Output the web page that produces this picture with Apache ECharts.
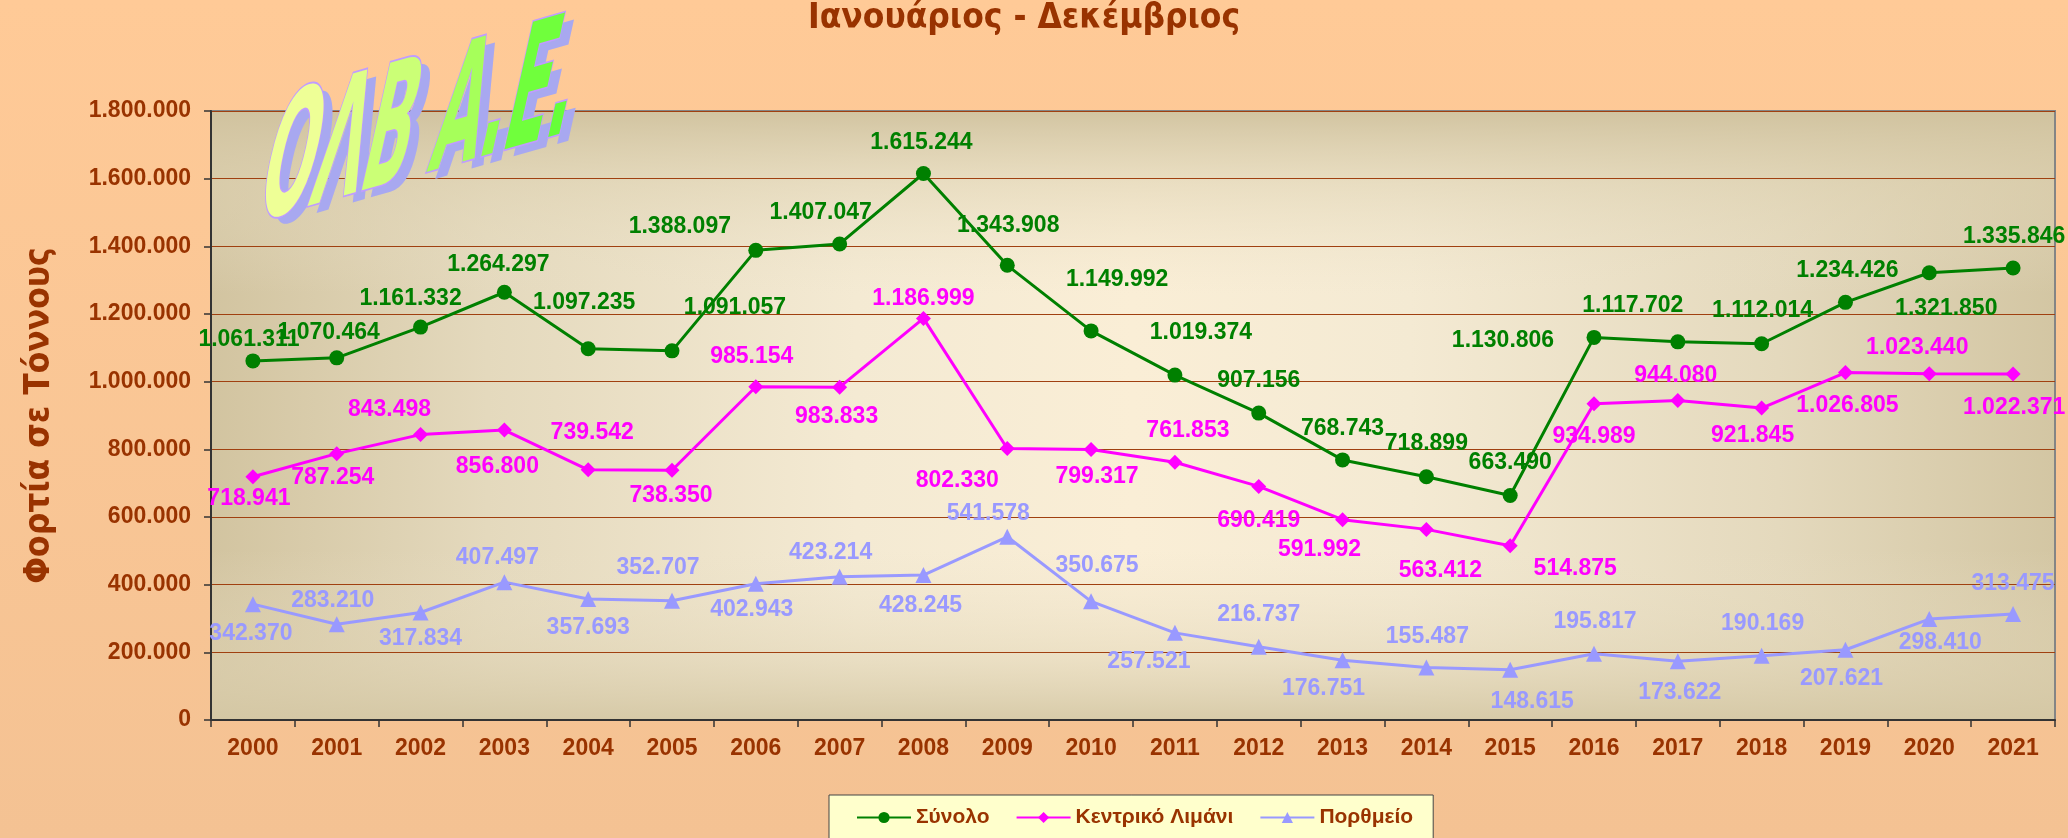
<!DOCTYPE html>
<html><head><meta charset="utf-8">
<script src="https://cdn.jsdelivr.net/npm/echarts@6/dist/echarts.min.js"></script>
<style>html,body{margin:0;padding:0;background:#ffcb98}#c{width:2068px;height:838px}</style>
</head><body><div id="c"></div>
<script>
// ---- data ----
const years = ['2000','2001','2002','2003','2004','2005','2006','2007','2008','2009','2010','2011','2012','2013','2014','2015','2016','2017','2018','2019','2020','2021'];
const seriesNames = ['Σύνολο', 'Κεντρικό Λιμάνι', 'Πορθμείο'];
const total   = [1061311,1070464,1161332,1264297,1097235,1091057,1388097,1407047,1615244,1343908,1149992,1019374,907156,768743,718899,663490,1130806,1117702,1112014,1234426,1321850,1335846];
const central = [718941,787254,843498,856800,739542,738350,985154,983833,1186999,802330,799317,761853,690419,591992,563412,514875,934989,944080,921845,1026805,1023440,1022371];
const ferry   = [342370,283210,317834,407497,357693,352707,402943,423214,428245,541578,350675,257521,216737,176751,155487,148615,195817,173622,190169,207621,298410,313475];
const titleText = 'Ιανουάριος - Δεκέμβριος';
const yAxisName = 'Φορτία σε Τόννους';
const logoChars = ['Ο','Λ','Β',' ','Α','.','Ε','.'];
const yMin = 0, yMax = 1800000, yStep = 200000;

// ---- label placement (styling, pixels relative to each point) ----
const totalLabelOffsets = [[-4,-21],[-8,-25],[-10,-28],[-6,-28],[-4,-46],[63,-43],[-76,-24],[-19,-31],[-2,-31],[1,-40],[26,-51],[26,-42],[0,-32],[0,-31],[0,-33],[0,-33],[-91,3],[-45,-36],[1,-33],[2,-32],[17,36],[1,-31]];
const centralLabelOffsets = [[-4,22],[-4,24],[-31,-25],[-7,37],[4,-37],[-1,25],[-4,-30],[-3,30],[0,-20],[-50,32],[6,27],[13,-32],[0,34],[-23,30],[14,41],[65,23],[0,33],[-2,-25],[-9,28],[2,33],[-12,-26],[1,34]];
const ferryLabelOffsets = [[-2,29],[-4,-24],[0,26],[-7,-24],[0,29],[-14,-33],[-4,26],[-9,-24],[-3,31],[-19,-23],[6,-36],[-26,29],[0,-32],[-19,28],[1,-31],[22,32],[1,-32],[2,31],[1,-32],[-4,29],[11,24],[0,-30]];
const logoColors = ['#eeff96','#deff86','#cbff76','#bbff6a','#a6ff5a','#90ff4c','#70ff3c','#66ff38'];

function fmt(v){ return String(v).replace(/\B(?=(\d{3})+(?!\d))/g, '.'); }

const BROWN = '#993300';
const numFont = 'Liberation Sans, Arial, sans-serif';
const greekFont = 'DejaVu Sans Condensed, DejaVu Sans, sans-serif';

const G = {left:211, top:111, right:13, bottom:118};
const W = 2068, H = 838;
const gw = W - G.left - G.right, gh = H - G.top - G.bottom;

function mk(name, vals, offs, color, symbol, size, z){
  return {
    name, type:'line', z,
    data: vals.map((v,i)=>({value:v, label:{offset: offs[i]}})),
    symbol, symbolSize:size, showSymbol:true,
    lineStyle:{color, width:3},
    itemStyle:{color, borderWidth:0},
    label:{show:true, position:'inside', formatter:p=>fmt(p.value), color,
      fontSize:23, fontWeight:'bold', fontFamily:numFont},
    emphasis:{disabled:true},
    animation:false
  };
}

// logo rich text (one token per glyph so each gets its own tint)
const logoText = logoChars.map((c,i)=>'{t'+i+'|'+c+'}').join('');
function logoRich(colorFn, withStroke){
  const r = {};
  logoChars.forEach((c,i)=>{
    r['t'+i] = {fill:colorFn(i), fontSize:70, fontWeight:'bold', fontFamily:greekFont};
    if (withStroke){ r['t'+i].stroke = '#c09cff'; r['t'+i].lineWidth = 1.5; }
  });
  return r;
}
const logoTf = {scaleY:2.5, skewX:-0.22, skewY:0.28};

const chart = echarts.init(document.getElementById('c'), null, {renderer:'canvas'});
chart.setOption({
  animation:false,
  title:{text:titleText, left:808, top:1, padding:0,
    textStyle:{color:BROWN, fontSize:35, fontWeight:'bold', fontFamily:greekFont}},
  legend:{
    data:seriesNames, left:829, top:795, orient:'horizontal',
    padding:[12,20,14,27], itemGap:26, itemWidth:54, itemHeight:14,
    backgroundColor:'#ffffcc', borderColor:'#444', borderWidth:1, borderRadius:0,
    textStyle:{color:BROWN, fontSize:21, fontWeight:'bold', fontFamily:numFont},
    selectedMode:false
  },
  grid:{left:G.left, top:G.top, right:G.right, bottom:G.bottom, show:true,
    backgroundColor:'transparent', borderColor:'#858585', borderWidth:2,
    containLabel:false, outerBoundsMode:'none'},
  xAxis:{type:'category', data:years, boundaryGap:true,
    axisLine:{show:true, lineStyle:{color:'#333', width:2}},
    axisTick:{show:true, length:7, lineStyle:{color:'#333', width:1.5}},
    axisLabel:{interval:0, color:BROWN, fontSize:23, fontWeight:'bold', fontFamily:numFont, margin:17},
    splitLine:{show:false}},
  yAxis:{type:'value', min:yMin, max:yMax, interval:yStep,
    name:yAxisName, nameLocation:'middle', nameRotate:90, nameGap:154,
    nameTextStyle:{color:BROWN, fontSize:35, fontWeight:'bold', fontFamily:greekFont},
    axisLine:{show:true, lineStyle:{color:'#333', width:2}},
    axisTick:{show:true, length:7, lineStyle:{color:'#333', width:1.5}},
    axisLabel:{color:BROWN, fontSize:23, fontWeight:'bold', fontFamily:numFont, margin:20, formatter:v=>fmt(v)},
    splitLine:{show:true, lineStyle:{color:'#a04010', width:1.2}}},
  graphic:[
    {type:'rect', silent:true, z:-10, shape:{x:0,y:0,width:W,height:H},
      style:{fill:new echarts.graphic.LinearGradient(0,0,0,1,[{offset:0,color:'#ffca97'},{offset:1,color:'#f4c293'}])}},
    {type:'rect', silent:true, z:-9, shape:{x:G.left,y:G.top,width:gw,height:gh},
      style:{fill:new echarts.graphic.LinearGradient(0,0,1,0,[
        {offset:0,color:'#d2c4a0'},{offset:0.15,color:'#e4d9bd'},{offset:0.35,color:'#f4ead3'},
        {offset:0.5,color:'#faeed6'},{offset:0.65,color:'#f4ead3'},{offset:0.85,color:'#e4d9bd'},{offset:1,color:'#d3c6a3'}])}},
    {type:'rect', silent:true, z:-8, shape:{x:G.left,y:G.top,width:gw,height:gh},
      style:{fill:new echarts.graphic.LinearGradient(0,0,0,1,[
        {offset:0,color:'rgba(208,194,158,0.95)'},{offset:0.12,color:'rgba(222,210,178,0.55)'},
        {offset:0.3,color:'rgba(235,225,200,0)'},{offset:0.72,color:'rgba(235,225,200,0)'},
        {offset:0.9,color:'rgba(222,210,178,0.5)'},{offset:1,color:'rgba(212,199,164,0.9)'}])}},
    // logo shadow
    Object.assign({type:'text', silent:true, z:20, x:273, y:183,
      style:{text:logoText, rich:logoRich(()=> '#a8a8f0', false), align:'left', verticalAlign:'middle'}}, logoTf),
    // logo
    Object.assign({type:'text', silent:true, z:21, x:264, y:176,
      style:{text:logoText, rich:logoRich(i=>logoColors[i], true), align:'left', verticalAlign:'middle'}}, logoTf)
  ],
  series:[
    mk(seriesNames[0], total, totalLabelOffsets, '#008000', 'circle', 15, 4),
    mk(seriesNames[1], central, centralLabelOffsets, '#ff00ff', 'diamond', 15, 3),
    mk(seriesNames[2], ferry, ferryLabelOffsets, '#9999ff', 'triangle', 16, 2)
  ]
});
</script></body></html>
